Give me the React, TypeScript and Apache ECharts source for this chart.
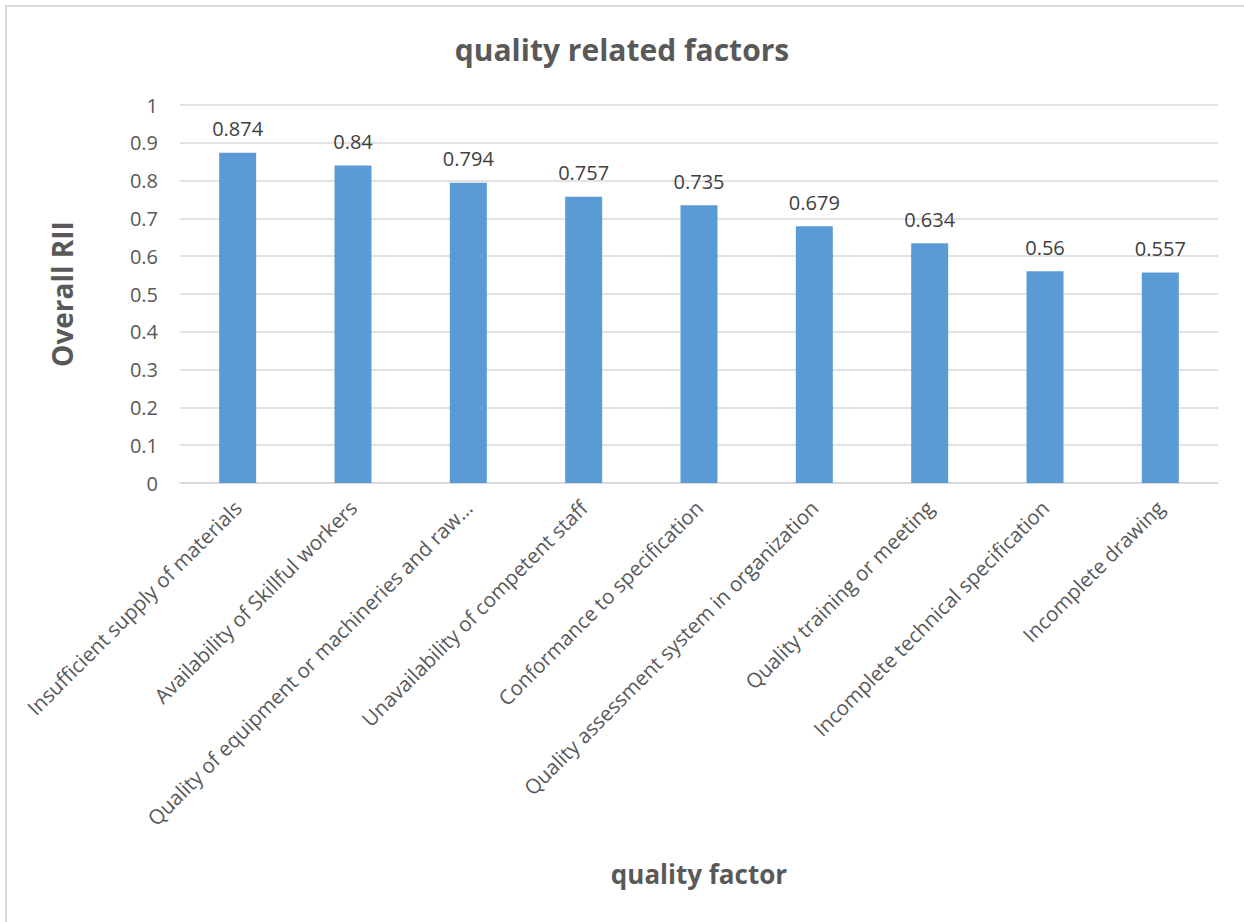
import React, { useEffect, useRef } from "react";
import * as echarts from "echarts";

const categories = [
  "Insufficient supply of materials",
  "Availability of Skillful workers",
  "Quality of equipment or machineries and raw…",
  "Unavailability of competent staff",
  "Conformance to specification",
  "Quality assessment system in organization",
  "Quality training or meeting",
  "Incomplete technical specification",
  "Incomplete drawing",
];
const values = [0.874, 0.84, 0.794, 0.757, 0.735, 0.679, 0.634, 0.56, 0.557];
const yTicks = [0, 0.1, 0.2, 0.3, 0.4, 0.5, 0.6, 0.7, 0.8, 0.9, 1];

const FONT = "'Open Sans', 'Noto Sans', sans-serif";

export default function App() {
  const ref = useRef<HTMLDivElement>(null);
  useEffect(() => {
    if (!ref.current) return;
    const chart = echarts.init(ref.current, null, { renderer: "svg" });
    chart.setOption({
      animation: false,
      backgroundColor: "#ffffff",
      textStyle: { fontFamily: FONT },
      title: {
        text: "quality related factors",
        left: "center",
        top: 29,
        textStyle: { fontSize: 30, fontWeight: "bold", color: "#595959", fontFamily: FONT },
      },
      grid: { left: 180, right: 26, top: 105, bottom: 439, containLabel: false },
      xAxis: {
        type: "category",
        data: categories,
        name: "quality factor",
        nameLocation: "middle",
        nameGap: 378,
        nameTextStyle: { fontSize: 26, fontWeight: "bold", color: "#595959", fontFamily: FONT },
        axisLine: { show: true, lineStyle: { color: "#d9d9d9", width: 1.5 } },
        axisTick: { show: false },
        axisLabel: {
          rotate: 45,
          interval: 0,
          margin: 21,
          fontSize: 20.5,
          color: "#595959",
          fontFamily: FONT,
        },
      },
      yAxis: {
        type: "value",
        min: 0,
        max: 1,
        interval: 0.1,
        name: "Overall RII",
        nameLocation: "middle",
        nameGap: 104,
        nameRotate: 90,
        nameTextStyle: { fontSize: 28, fontWeight: "bold", color: "#595959", fontFamily: FONT },
        axisLine: { show: false },
        axisTick: { show: false },
        splitLine: { lineStyle: { color: "#d9d9d9", width: 1.5 } },
        axisLabel: {
          margin: 22,
          fontSize: 20,
          color: "#595959",
          fontFamily: FONT,
          formatter: (v: number) => {
            const t = yTicks.find((x) => Math.abs(x - v) < 1e-9);
            return String(t !== undefined ? t : Math.round(v * 10) / 10);
          },
        },
      },
      series: [
        {
          type: "bar",
          data: values,
          barWidth: 37,
          itemStyle: { color: "#5b9bd5" },
          label: {
            show: true,
            position: "top",
            distance: 14,
            fontSize: 20,
            color: "#404040",
            fontFamily: FONT,
          },
        },
      ],
      graphic: [
        {
          type: "rect",
          shape: { x: 6, y: 6, width: 1300, height: 1000 },
          style: { fill: "none", stroke: "#d9d9d9", lineWidth: 2 },
          silent: true,
        },
      ],
    });
    return () => chart.dispose();
  }, []);
  return (
    <div
      ref={ref}
      style={{ position: "absolute", left: 0, top: 0, width: 1244, height: 922 }}
    />
  );
}
